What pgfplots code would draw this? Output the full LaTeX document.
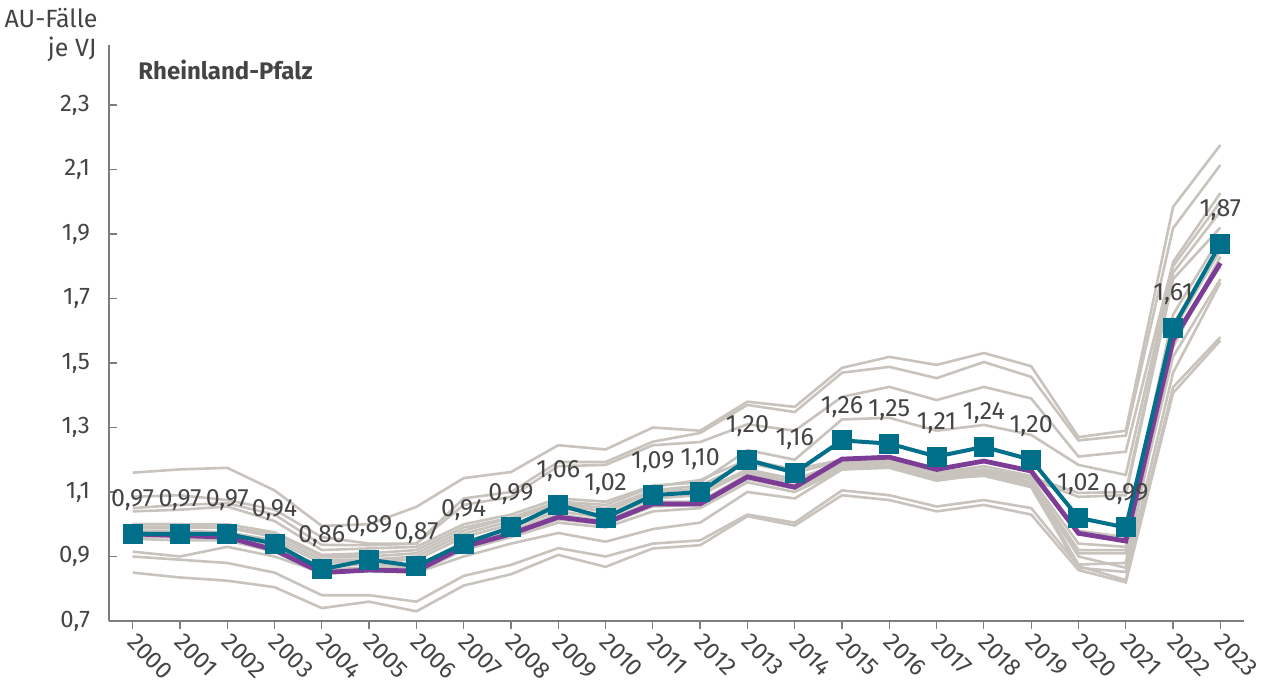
\documentclass[border=0pt]{standalone}
\usepackage{fontspec}
\setmainfont{Fira Sans}
\usepackage{pgfplots}
\usepackage{pgfplotstable}
\pgfplotsset{compat=1.18}
\definecolor{greyl}{RGB}{200,195,188}
\definecolor{rlp}{RGB}{0,111,138}
\definecolor{purp}{RGB}{125,60,150}
\definecolor{txt}{RGB}{68,68,68}
\definecolor{axgrey}{RGB}{125,125,125}
\pgfplotstableread{
year L1 L2 L3 L4 L5 L6 L7 L8 L9 L10 L11 L12 L13 L14 L15 P RLP
2000 1.16 1.085 1.05 1.04 1.00 0.99 0.98 1.00 0.975 0.965 0.96 0.955 0.915 0.90 0.85 0.97 0.97
2001 1.17 1.09 1.06 1.045 1.00 0.99 0.98 1.00 0.97 0.96 0.96 0.95 0.90 0.89 0.835 0.965 0.97
2002 1.175 1.075 1.065 1.055 0.99 0.99 0.975 1.00 0.97 0.955 0.965 0.95 0.93 0.88 0.825 0.96 0.97
2003 1.105 1.045 1.03 1.01 0.97 0.96 0.95 0.975 0.93 0.92 0.93 0.915 0.90 0.85 0.805 0.92 0.94
2004 0.995 0.96 0.936 0.92 0.90 0.89 0.88 0.905 0.86 0.855 0.87 0.85 0.85 0.78 0.74 0.85 0.86
2005 1.00 0.94 0.935 0.925 0.90 0.89 0.885 0.91 0.865 0.86 0.875 0.855 0.86 0.78 0.76 0.858 0.89
2006 1.054 0.94 0.94 0.93 0.91 0.90 0.89 0.92 0.865 0.86 0.87 0.85 0.85 0.76 0.73 0.855 0.87
2007 1.143 1.08 1.06 1.00 0.98 0.97 0.96 0.99 0.94 0.925 0.945 0.92 0.90 0.84 0.81 0.93 0.94
2008 1.162 1.10 1.085 1.03 1.02 1.01 1.00 1.02 0.98 0.965 0.99 0.96 0.94 0.874 0.845 0.97 0.99
2009 1.245 1.193 1.18 1.08 1.07 1.065 1.05 1.06 1.03 1.015 1.04 1.005 0.973 0.926 0.905 1.022 1.06
2010 1.232 1.193 1.184 1.07 1.06 1.05 1.03 1.04 1.01 1.00 1.02 0.99 0.946 0.90 0.868 1.004 1.02
2011 1.30 1.256 1.245 1.12 1.116 1.105 1.09 1.10 1.07 1.055 1.08 1.04 0.985 0.94 0.925 1.063 1.09
2012 1.29 1.283 1.255 1.13 1.137 1.12 1.10 1.11 1.07 1.06 1.09 1.05 1.005 0.95 0.935 1.063 1.10
2013 1.38 1.37 1.31 1.23 1.20 1.19 1.17 1.16 1.155 1.14 1.165 1.13 1.10 1.03 1.025 1.147 1.20
2014 1.364 1.348 1.29 1.20 1.17 1.16 1.14 1.13 1.12 1.11 1.13 1.10 1.08 1.005 0.996 1.115 1.16
2015 1.485 1.47 1.395 1.325 1.20 1.195 1.19 1.185 1.18 1.175 1.17 1.17 1.17 1.105 1.09 1.202 1.26
2016 1.519 1.488 1.426 1.33 1.20 1.19 1.195 1.19 1.185 1.18 1.175 1.18 1.18 1.09 1.075 1.208 1.25
2017 1.494 1.453 1.385 1.29 1.16 1.15 1.16 1.15 1.145 1.14 1.135 1.14 1.14 1.055 1.04 1.17 1.21
2018 1.531 1.503 1.426 1.308 1.17 1.165 1.18 1.17 1.165 1.16 1.155 1.15 1.16 1.075 1.06 1.196 1.24
2019 1.49 1.457 1.39 1.277 1.146 1.14 1.15 1.14 1.13 1.12 1.125 1.115 1.13 1.05 1.03 1.165 1.20
2020 1.27 1.26 1.21 1.184 1.097 1.085 0.98 0.94 0.92 0.91 0.875 0.865 0.90 0.87 0.858 0.972 1.02
2021 1.29 1.275 1.225 1.153 1.10 1.09 0.96 0.93 0.92 0.91 0.88 0.852 0.865 0.827 0.82 0.948 0.99
2022 1.984 1.918 1.813 1.80 1.78 1.76 1.65 1.60 1.55 1.52 1.62 1.47 1.58 1.425 1.407 1.571 1.61
2023 2.176 2.114 2.027 2.00 1.97 1.92 1.89 1.85 1.83 1.76 1.86 1.75 1.80 1.58 1.57 1.81 1.87
}\data
\begin{document}
\begin{tikzpicture}
\path[use as bounding box] (-54.5pt,-38pt) rectangle (582pt,310.5pt);
\begin{axis}[
  at={(0,0)}, anchor=south west, scale only axis,
  width=567.5pt, height=288pt,
  xmin=1999.5, xmax=2023.5, ymin=0.7, ymax=2.486,
  axis x line=bottom, axis y line=left,
  axis line style={-, axgrey, line width=0.8pt},
  xtick={2000,...,2023},
  ytick={0.7,0.9,1.1,1.3,1.5,1.7,1.9,2.1,2.3},
  tick align=outside, major tick length=4pt,
  tick style={axgrey, line width=0.6pt},
  ytick style={xshift=4pt},
  /pgf/number format/assume math mode=true,
  /pgf/number format/set thousands separator={},
  ticklabel style={font=\fontsize{12}{14}\selectfont, text=txt},
  yticklabel style={xshift=-2pt, /pgf/number format/use comma, /pgf/number format/fixed,
     /pgf/number format/fixed zerofill, /pgf/number format/precision=1},
  xticklabel style={anchor=north west, inner sep=1pt, xshift=2.5pt, rotate=-45},
  clip=false,
]
\pgfplotsinvokeforeach{1,...,15}{
  \addplot[greyl, line width=1.3pt] table[x=year, y=L#1]{\data};
}
\addplot[purp, line width=2.4pt] table[x=year, y=P]{\data};
\addplot[rlp, line width=2pt, mark=square*, mark size=4pt, mark options={solid, fill=rlp},
  nodes near coords={\pgfmathprintnumber[fixed, fixed zerofill, precision=2, use comma, assume math mode=true]{\pgfplotspointmeta}},
  every node near coord/.append style={anchor=base, yshift=13.5pt, font=\fontsize{12.5}{14}\selectfont, text=txt, inner sep=0pt}
] table[x=year, y=RLP]{\data};
\end{axis}
\node[anchor=base west, inner sep=0pt, font=\bfseries\fontsize{12}{14}\selectfont, text=txt] at (14.5pt,270.5pt) {Rheinland-Pfalz};
\node[anchor=base east, font=\fontsize{12.5}{15}\selectfont, text=txt, inner sep=0pt] at (-5.5pt,296.5pt) {AU-Fälle};
\node[anchor=base east, font=\fontsize{12.5}{15}\selectfont, text=txt, inner sep=0pt] at (-6pt,282pt) {je VJ};
\end{tikzpicture}
\end{document}
